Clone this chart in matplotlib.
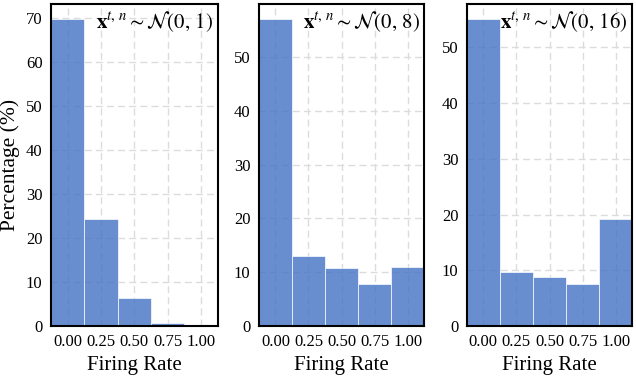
import matplotlib
matplotlib.use("Agg")
import matplotlib.pyplot as plt

plt.rcParams['font.family'] = ['Liberation Serif', 'DejaVu Serif']
plt.rcParams['mathtext.fontset'] = 'stix'

bin_centers = [0.00, 0.25, 0.50, 0.75, 1.00]
tick_labels = ["0.00", "0.25", "0.50", "0.75", "1.00"]
pct_var1 = [69.6, 24.2, 6.3, 0.6, 0.0]
pct_var8 = [57.0, 13.1, 10.85, 7.9, 10.97]
pct_var16 = [55.0, 9.6, 8.75, 7.5, 19.2]
titles = [r"$\mathbf{x}^{t,\,n} \sim \mathcal{N}(0,\,1)$",
          r"$\mathbf{x}^{t,\,n} \sim \mathcal{N}(0,\,8)$",
          r"$\mathbf{x}^{t,\,n} \sim \mathcal{N}(0,\,16)$"]
series = [pct_var1, pct_var8, pct_var16]

fig = plt.figure(figsize=(6.36, 3.76), dpi=100)
positions = [
    [0.080, 0.133, 0.262, 0.856],
    [0.407, 0.133, 0.260, 0.856],
    [0.734, 0.133, 0.260, 0.856],
]

for i, (pos, vals, title) in enumerate(zip(positions, series, titles)):
    ax = fig.add_axes(pos)
    ax.set_axisbelow(True)
    ax.grid(True, linestyle=(0, (5, 3)), color='#dcdcdc', linewidth=1.0)
    ax.bar(bin_centers, vals, width=0.25, color='#4472C4', alpha=0.8,
           edgecolor='white', linewidth=0.6)
    ax.set_xlim(-0.125, 1.125)
    ax.set_ylim(0, max(vals) * 1.05)
    ax.set_xticks(bin_centers)
    ax.set_xticklabels(tick_labels)
    ax.tick_params(axis='both', length=0, labelsize=12, pad=6)
    for s in ax.spines.values():
        s.set_color('black')
        s.set_linewidth(1.5)
    ax.set_xlabel("Firing Rate", fontsize=15)
    if i == 0:
        ax.set_ylabel("Percentage (%)", fontsize=15.5)
    ax.text(0.975, 0.985, title, transform=ax.transAxes, ha='right', va='top',
            fontsize=15)

fig.savefig("out.png", dpi=100)
